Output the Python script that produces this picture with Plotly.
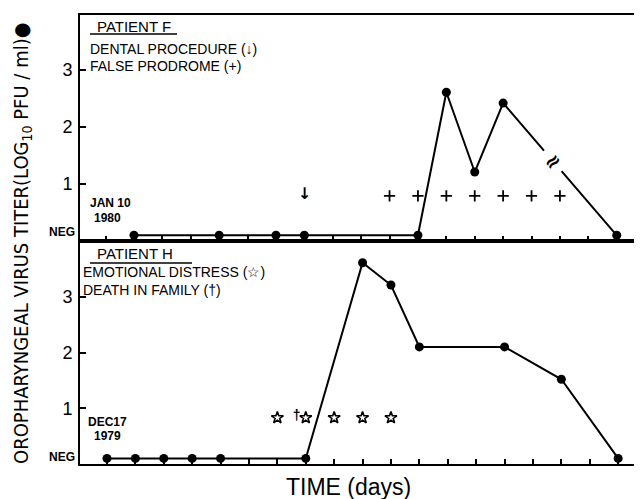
import plotly.graph_objects as go

# ---------------- data ----------------
NEG = 0.1
# Patient F (day 0 = Jan 10 1980)
f_days = [0, 3, 5, 6, 10, 11, 12, 13, 17]
f_titer = [NEG, NEG, NEG, NEG, NEG, 2.61, 1.21, 2.42, NEG]
f_prodrome_days = [9, 10, 11, 12, 13, 14, 15]
f_prodrome_level = [0.79] * 7
f_dental_days = [6]
f_dental_level = [0.80]
f_break_day, f_break_level = 14.75, 1.40

# Patient H (day 0 = Dec 17 1979)
h_days = [0, 1, 2, 3, 4, 7, 9, 10, 11, 14, 16, 18]
h_titer = [NEG, NEG, NEG, NEG, NEG, NEG, 3.61, 3.21, 2.1, 2.1, 1.52, NEG]
h_distress_days = [6, 7, 8, 9, 10]
h_distress_level = [0.83] * 5
h_death_days = [6.68]
h_death_level = [0.86]

ytick_vals = [1, 2, 3]
ytick_text = ["1", "2", "3"]

# ---------------- layout helpers ----------------
OFF = 8  # page body margin offset
W, H = 642 - OFF, 499 - OFF
L, R = 80 - OFF, 0
T = 15 - OFF
BOT = 464 - OFF  # plot bottom in figure px
B = H - BOT
PW, PH = W - L - R, BOT - T
SPLIT = 241 - OFF
split_frac = (BOT - SPLIT) / PH


def px(x):  # x in reference-screen pixels -> paper
    return (x - OFF - L) / PW


def py(y):  # y in reference-screen pixels -> paper
    return (BOT - (y - OFF)) / PH


FONT = "Liberation Sans, Arial, sans-serif"
BLACK = "black"

fig = go.Figure()

line_style = dict(color=BLACK, width=2)
dot_style = dict(color=BLACK, size=9, symbol="circle")

# Patient F
fig.add_trace(go.Scatter(x=f_days, y=f_titer, mode="lines+markers", line=line_style,
                         marker=dot_style, xaxis="x", yaxis="y", showlegend=False,
                         cliponaxis=False))
fig.add_trace(go.Scatter(x=f_prodrome_days, y=f_prodrome_level, mode="markers",
                         marker=dict(symbol="cross-thin", size=8, color=BLACK,
                                     line=dict(color=BLACK, width=1.8)),
                         xaxis="x", yaxis="y", showlegend=False))
fig.add_trace(go.Scatter(x=f_dental_days, y=f_dental_level, mode="text", text=["<b>↓</b>"],
                         textfont=dict(family="DejaVu Sans", size=16, color=BLACK),
                         xaxis="x", yaxis="y", showlegend=False))

# Patient H
fig.add_trace(go.Scatter(x=h_days, y=h_titer, mode="lines+markers", line=line_style,
                         marker=dot_style, xaxis="x2", yaxis="y2", showlegend=False,
                         cliponaxis=False))
fig.add_trace(go.Scatter(x=h_distress_days, y=h_distress_level, mode="markers",
                         marker=dict(symbol="star-open", size=9, color=BLACK,
                                     line=dict(color=BLACK, width=1.6)),
                         xaxis="x2", yaxis="y2", showlegend=False))
fig.add_trace(go.Scatter(x=h_death_days, y=h_death_level, mode="text", text=["<b>†</b>"],
                         textfont=dict(family=FONT, size=14, color=BLACK),
                         xaxis="x2", yaxis="y2", showlegend=False))

xcommon = dict(dtick=1, tick0=0, ticks="inside", ticklen=5, tickwidth=1.5,
               tickcolor=BLACK, showticklabels=False, showline=True, linecolor=BLACK,
               linewidth=2, mirror=True, showgrid=False, zeroline=False)
ycommon = dict(tickvals=ytick_vals, ticktext=ytick_text, ticks="inside", ticklen=6,
               tickwidth=1.5, tickcolor=BLACK, showline=True, linecolor=BLACK,
               linewidth=2, showgrid=False, zeroline=False,
               tickfont=dict(family=FONT, size=18, color=BLACK), ticklabelstandoff=2)
yright = dict(tickvals=ytick_vals, ticks="inside", ticklen=5, tickwidth=1.5,
              tickcolor=BLACK, showline=False, showgrid=False, zeroline=False,
              showticklabels=False, side="right")

top_range = [0, (SPLIT - T) / 57.0]
bot_range = [0, 4.0]

fig.update_layout(
    width=W, height=H, margin=dict(l=L, r=R, t=T, b=B, autoexpand=False),
    paper_bgcolor="white", plot_bgcolor="white",
    xaxis=dict(domain=[0, 1], range=[-1.9, 17.89], anchor="y", **xcommon),
    xaxis2=dict(domain=[0, 1], range=[-0.95, 18.84], anchor="y2", **xcommon),
    yaxis=dict(domain=[split_frac, 1], range=top_range, anchor="x", **ycommon),
    yaxis2=dict(domain=[0, split_frac], range=bot_range, anchor="x2", **ycommon),
    yaxis3=dict(overlaying="y", anchor="x", range=top_range, **yright),
    yaxis4=dict(overlaying="y2", anchor="x2", range=bot_range, **yright),
)
# empty traces so the right-hand tick axes render
fig.add_trace(go.Scatter(x=[None], y=[None], xaxis="x", yaxis="y3", showlegend=False))
fig.add_trace(go.Scatter(x=[None], y=[None], xaxis="x2", yaxis="y4", showlegend=False))

ann = []


def text(x, y, s, size=13, anchor="left", family=FONT, angle=0):
    ann.append(dict(x=px(x), y=py(y), xref="paper", yref="paper", text=s, showarrow=False,
                    xanchor=anchor, yanchor="middle", textangle=angle,
                    font=dict(family=family, size=size, color=BLACK)))


# panel F texts
text(95, 26, "PATIENT F", 15)
text(88, 49, "DENTAL PROCEDURE (↓)", 14)
text(88, 66, "FALSE PRODROME (+)", 14)
text(88, 203, "<b>JAN 10</b>", 12)
text(92, 218, "<b>1980</b>", 12)
text(77, 232, "<b>NEG</b>", 12, anchor="right")
# panel H texts
text(95, 253, "PATIENT H", 15)
text(81, 272, "EMOTIONAL DISTRESS (☆)", 14)
text(81, 290, "DEATH IN FAMILY (†)", 14)
text(86, 422, "<b>DEC17</b>", 12)
text(92, 436, "<b>1979</b>", 12)
text(77, 457, "<b>NEG</b>", 12, anchor="right")
# axis titles
text(348, 487, "TIME (days)", 23, anchor="center")
text(22, 244, "OROPHARYNGEAL VIRUS TITER(LOG<sub>10</sub> PFU / ml)●", 20,
     anchor="center", angle=-90,
     family="Liberation Sans Narrow, DejaVu Sans Condensed, Arial Narrow, sans-serif")

# break marker on patient F decline
ann.append(dict(x=f_break_day, y=f_break_level, xref="x", yref="y", text="<b>≈</b>",
                showarrow=False, textangle=-40, bgcolor="white",
                font=dict(family="DejaVu Sans", size=20, color=BLACK)))

fig.update_layout(annotations=ann)

# underline for patient labels
fig.add_shape(type="line", xref="paper", yref="paper", x0=px(90), x1=px(177),
              y0=py(34), y1=py(34), line=dict(color=BLACK, width=1.6))
fig.add_shape(type="line", xref="paper", yref="paper", x0=px(90), x1=px(192),
              y0=py(263), y1=py(263), line=dict(color=BLACK, width=1.6))

fig.write_html("out.html")
